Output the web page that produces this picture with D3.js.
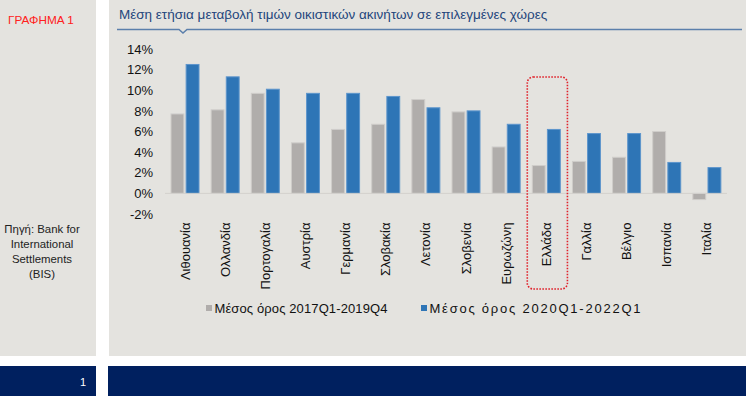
<!DOCTYPE html>
<html>
<head>
<meta charset="utf-8">
<script src="https://cdn.jsdelivr.net/npm/d3@7"></script>
<style>
  body { margin: 0; background: #fff; }
  svg { display: block; font-family: "Liberation Sans", Arial, sans-serif; }
</style>
</head>
<body>
<div id="chart"></div>
<script>
var width = 746, height = 396;

// data
var countries = ["Λιθουανία", "Ολλανδία", "Πορτογαλία", "Αυστρία", "Γερμανία", "Σλοβακία", "Λετονία",
  "Σλοβενία", "Ευρωζώνη", "Ελλάδα", "Γαλλία", "Βέλγιο", "Ισπανία", "Ιταλία"];
var avg2017 = [7.7, 8.1, 9.7, 4.9, 6.2, 6.7, 9.1, 7.9, 4.5, 2.7, 3.1, 3.5, 6.0, -0.6];
var avg2020 = [12.5, 11.3, 10.1, 9.7, 9.7, 9.4, 8.3, 8.0, 6.7, 6.2, 5.8, 5.8, 3.0, 2.5];
var seriesNames = ["Μέσος όρος 2017Q1-2019Q4", "Μέσος όρος 2020Q1-2022Q1"];
var seriesColors = ["#b0adab", "#2e75b6"];
var seriesStrokes = ["#cfcdca", "#5d95cc"];
var yTicks = [-2, 0, 2, 4, 6, 8, 10, 12, 14];
var highlight = "Ελλάδα";

var svg = d3.select("#chart")
  .append("svg")
    .attr("width", width)
    .attr("height", height);

// panels
svg.append("rect").attr("x", 0).attr("y", 0).attr("width", 96).attr("height", 356).attr("fill", "#e4e3df");
svg.append("rect").attr("x", 109).attr("y", 0).attr("width", 637).attr("height", 356).attr("fill", "#e4e3df");
svg.append("rect").attr("x", 0).attr("y", 366).attr("width", 96).attr("height", 30).attr("fill", "#00205f");
svg.append("rect").attr("x", 108).attr("y", 366).attr("width", 638).attr("height", 30).attr("fill", "#00205f");

svg.append("text")
  .attr("x", 86).attr("y", 386)
  .attr("text-anchor", "end")
  .attr("fill", "#fff")
  .style("font-size", "11px")
  .text("1");

svg.append("text")
  .attr("x", 8).attr("y", 24)
  .attr("fill", "#ff2020")
  .style("font-size", "11.8px")
  .text("ΓΡΑΦΗΜΑ 1");

var src = svg.append("text")
  .attr("text-anchor", "middle")
  .attr("fill", "#222")
  .style("font-size", "11.4px");
["Πηγή: Bank for", "International", "Settlements", "(BIS)"].forEach(function(t, i) {
  src.append("tspan").attr("x", 42).attr("y", 233 + i * 15).text(t);
});

// title + underline with small notch
svg.append("text")
  .attr("x", 119).attr("y", 19)
  .attr("fill", "#1f467c")
  .style("font-size", "13.5px")
  .text("Μέση ετήσια μεταβολή τιμών οικιστικών ακινήτων σε επιλεγμένες χώρες");

svg.append("path")
  .attr("d", "M117,29.5 H179 L183,33 L187,29.5 H742")
  .attr("fill", "none")
  .attr("stroke", "#5b7fab")
  .attr("stroke-width", 1.5);

// scales
var x0 = d3.scaleBand()
  .domain(countries)
  .range([165, 727]);

var x1 = d3.scaleBand()
  .domain([0, 1])
  .range([6, 34])
  .paddingInner(0.15);

var y = d3.scaleLinear()
  .domain([-2, 14])
  .range([214, 49]);

// y axis labels
var yAxis = svg.append("g")
  .attr("transform", "translate(158,0)")
  .call(d3.axisLeft(y).tickValues(yTicks).tickSize(0).tickPadding(5)
    .tickFormat(function(d) { return d + "%"; }));
yAxis.select(".domain").remove();
yAxis.selectAll("text")
  .attr("fill", "#111")
  .style("font-size", "13px")
  .style("font-family", "Liberation Sans, Arial, sans-serif");

// bars
var rows = countries.map(function(c, i) { return {name: c, vals: [avg2017[i], avg2020[i]]}; });

var groups = svg.append("g").selectAll("g")
  .data(rows)
  .enter().append("g")
    .attr("transform", function(d) { return "translate(" + x0(d.name) + ",0)"; });

groups.selectAll("rect")
  .data(function(d) { return d.vals.map(function(v, k) { return {k: k, v: v}; }); })
  .enter().append("rect")
    .attr("x", function(d) { return x1(d.k); })
    .attr("width", x1.bandwidth())
    .attr("y", function(d) { return y(Math.max(0, d.v)); })
    .attr("height", function(d) { return Math.abs(y(d.v) - y(0)); })
    .attr("fill", function(d) { return seriesColors[d.k]; })
    .attr("stroke", function(d) { return seriesStrokes[d.k]; })
    .attr("stroke-width", 1);

// zero line
svg.append("line")
  .attr("x1", x0.range()[0]).attr("x2", x0.range()[1])
  .attr("y1", y(0)).attr("y2", y(0))
  .attr("stroke", "#d3d1cd")
  .attr("stroke-width", 1);

// category labels
svg.append("g").selectAll("text")
  .data(countries)
  .enter().append("text")
    .attr("transform", function(d) {
      return "translate(" + (x0(d) + x0.bandwidth() / 2 + 4.5) + ",222.5) rotate(-90)";
    })
    .attr("text-anchor", "end")
    .attr("fill", "#111")
    .style("font-size", "13px")
    .text(function(d) { return d; });

// red dotted box around Greece
svg.append("rect")
  .attr("x", x0(highlight) + 1)
  .attr("y", 77)
  .attr("width", x0.bandwidth())
  .attr("height", 212)
  .attr("rx", 6)
  .attr("fill", "none")
  .attr("stroke", "#e0202a")
  .attr("stroke-width", 1.6)
  .attr("stroke-dasharray", "1.6,1.4");

// legend
var legendX = [206, 421];
var legendLen = [173, 211];
var legend = svg.append("g").selectAll("g")
  .data(seriesNames)
  .enter().append("g")
    .attr("transform", function(d, i) { return "translate(" + legendX[i] + ",304)"; });
legend.append("rect")
  .attr("width", 6).attr("height", 6)
  .attr("y", 1)
  .attr("fill", function(d, i) { return seriesColors[i]; });
legend.append("text")
  .attr("x", 8.5).attr("y", 8.5)
  .attr("fill", "#111")
  .attr("textLength", function(d, i) { return legendLen[i]; })
  .attr("lengthAdjust", "spacing")
  .style("font-size", "13px")
  .text(function(d) { return d; });
</script>
</body>
</html>
